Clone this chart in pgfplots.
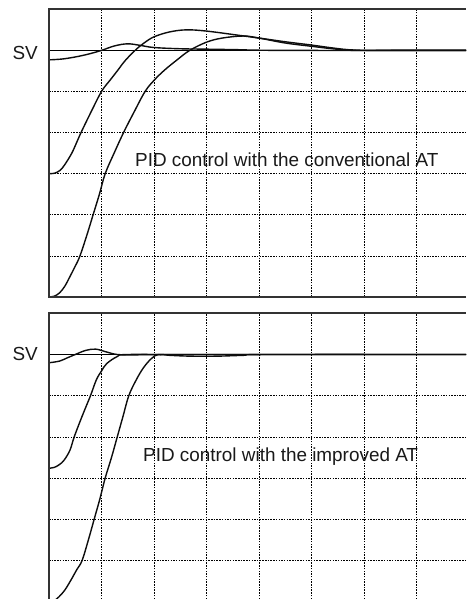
\documentclass[border=0pt]{standalone}
\usepackage{fontspec}
\setmainfont{Liberation Sans}
\usepackage{pgfplots}
\pgfplotsset{compat=1.18}

\pgfplotsset{
  pidpanel/.style={
    scale only axis,
    width=417pt,
    xmin=0, xmax=7.943,
    axis line style={draw=none},
    xtick={1,...,7}, ytick={1,...,5},
    xticklabels={}, yticklabels={},
    major tick length=0pt,
    grid=major,
    major grid style={black, line width=0.7pt, dash pattern=on 1.5pt off 1.2pt},
    clip mode=individual,
  },
  resp/.style={black!95, line width=1.4pt, smooth, tension=0.6, no markers},
  svline/.style={black, line width=1.3pt, no markers},
}

\begin{document}
\begin{tikzpicture}[x=1pt,y=1pt]
\path[use as bounding box] (0,0) rectangle (466,-599);

% conventional AT
\begin{axis}[pidpanel, at={(49pt,-9.3pt)}, anchor=north west,
  height=287.7pt, ymin=0, ymax=7]
\addplot[svline] coordinates {(0,6) (8,6)};
\addplot[resp] coordinates {
  (0,5.77) (0.25,5.79) (0.5,5.84) (0.75,5.91) (1.0,6.0) (1.25,6.11) (1.5,6.16)
  (1.75,6.12) (2.0,6.07) (2.5,6.04) (3.0,6.03) (3.5,6.02) (4.5,6.0) (8,6.0)
};
\addplot[resp] coordinates {
  (0,3.0) (0.1,3.01) (0.21,3.08) (0.3,3.22) (0.43,3.49) (0.52,3.74) (0.61,4.0)
  (0.8,4.5) (1.0,5.0) (1.16,5.27) (1.3,5.5) (1.45,5.75) (1.64,6.0) (1.8,6.17)
  (2.0,6.33) (2.3,6.45) (2.62,6.5) (3.0,6.47) (3.6,6.37) (4.0,6.3) (4.5,6.21)
  (5.0,6.13) (5.4,6.06) (5.8,6.01) (6.5,6.0) (8,6.0)
};
\addplot[resp] coordinates {
  (0,0) (0.1,0.02) (0.2,0.1) (0.3,0.26) (0.4,0.5) (0.5,0.75) (0.59,1.0)
  (0.72,1.5) (0.84,2.0) (0.96,2.5) (1.07,3.0) (1.24,3.5) (1.42,4.0) (1.62,4.5)
  (1.83,5.0) (2.0,5.27) (2.2,5.52) (2.45,5.78) (2.68,6.0) (3.0,6.2) (3.3,6.3)
  (3.7,6.35) (4.0,6.3) (4.5,6.18) (5.0,6.1) (5.4,6.04) (5.8,6.0) (6.5,6.0) (8,6.0)
};
\draw[line width=2pt, black!80] (rel axis cs:1,0) -- (rel axis cs:0,0)
  -- (rel axis cs:0,1) -- (rel axis cs:1,1);
\end{axis}

% improved AT
\begin{axis}[pidpanel, at={(49pt,-313.3pt)}, anchor=north west,
  height=285.7pt, ymin=0.066, ymax=7]
\addplot[svline] coordinates {(0,6) (8,6)};
\addplot[resp] coordinates {
  (0,5.8) (0.2,5.84) (0.35,5.92) (0.5,6.0) (0.7,6.1) (0.89,6.13) (1.1,6.06)
  (1.3,6.0) (1.6,5.99) (2.5,6.0) (8,6.0)
};
\addplot[resp] coordinates {
  (0,3.24) (0.1,3.26) (0.2,3.33) (0.29,3.44) (0.4,3.68) (0.48,4.0) (0.63,4.5)
  (0.79,5.0) (0.9,5.38) (1.0,5.6) (1.1,5.78) (1.3,5.95) (1.48,6.0) (2.5,6.0) (8,6.0)
};
\addplot[resp] coordinates {
  (0,0) (0.1,0.03) (0.19,0.12) (0.3,0.28) (0.42,0.53) (0.53,0.78) (0.63,1.0)
  (0.75,1.5) (0.86,2.0) (0.97,2.5) (1.07,3.0) (1.19,3.5) (1.3,4.0) (1.41,4.5)
  (1.52,5.0) (1.66,5.38) (1.8,5.68) (1.95,5.9) (2.08,6.0) (2.3,5.98) (2.7,5.96)
  (3.2,5.96) (3.7,5.98) (4.2,6.0) (8,6.0)
};
\draw[line width=2pt, black!80] (rel axis cs:0,0)
  -- (rel axis cs:0,1) -- (rel axis cs:1,1);
\end{axis}

\begin{scope}[every node/.style={inner sep=0, text=black!90,
    font=\fontsize{18.9}{20}\selectfont}]
\node[anchor=base east] at (38,-60) {SV};
\node[anchor=base east] at (38,-360) {SV};
\node[anchor=base west] at (135,-166.7) {PID control with the conventional AT};
\node[anchor=base west] at (143,-461.7) {PID control with the improved AT};
\end{scope}
\end{tikzpicture}
\end{document}
